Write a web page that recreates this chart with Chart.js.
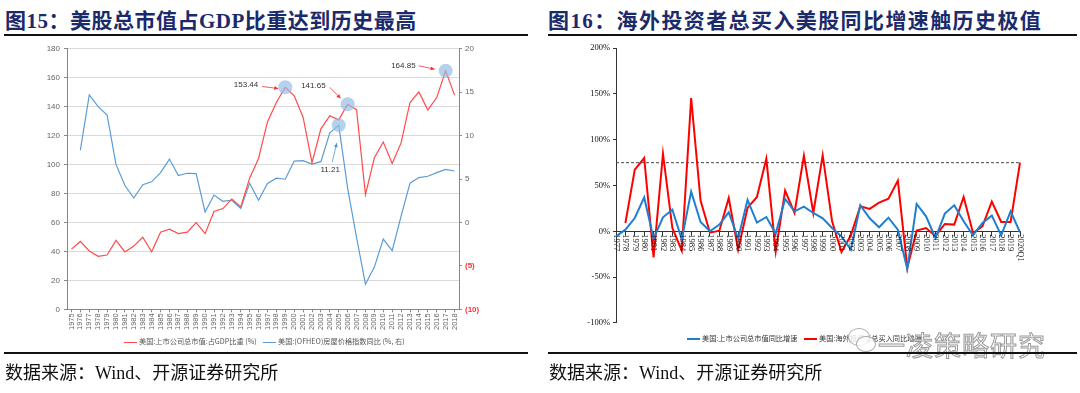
<!DOCTYPE html>
<html>
<head>
<meta charset="utf-8">
<script src="https://cdn.jsdelivr.net/npm/chart.js@4/dist/chart.umd.min.js"></script>
<style>
  html,body{margin:0;padding:0;background:#fff;width:1080px;height:393px;overflow:hidden;position:relative;}
  .title{position:absolute;top:4px;font-family:"Liberation Serif","Noto Sans CJK SC",serif;font-weight:bold;font-size:21px;color:#1B2A6B;white-space:nowrap;letter-spacing:0.5px;}
  .rule{position:absolute;height:2px;background:#111;}
  .src{position:absolute;top:358px;font-family:"Liberation Serif","Noto Sans CJK SC",serif;font-size:18px;color:#111;white-space:nowrap;}
  .leg{position:absolute;font-family:"Noto Sans CJK SC",sans-serif;font-size:7.2px;color:#555;white-space:nowrap;line-height:10px;}
  .leg i{display:inline-block;width:13px;height:0;border-top:1.5px solid;vertical-align:middle;margin-right:2px;}
  canvas{position:absolute;}
  .wm{position:absolute;left:878px;top:325px;font-family:"Noto Sans CJK SC",sans-serif;font-size:27px;color:rgba(255,255,255,0.85);-webkit-text-stroke:1px #9a9a9a;white-space:nowrap;letter-spacing:1px;}
  .wmi{position:absolute;border:1.5px solid #aaa;border-radius:50%;background:rgba(255,255,255,0.8);}
</style>
</head>
<body>
<div class="title" style="left:5px;">图15：美股总市值占GDP比重达到历史最高</div>
<div class="title" style="left:548px;letter-spacing:1.4px;">图16：海外投资者总买入美股同比增速触历史极值</div>
<div class="rule" style="left:4px;width:524px;top:34px;"></div>
<div class="rule" style="left:548px;width:529px;top:34px;"></div>

<div style="position:absolute;left:0;top:40px;width:535px;height:300px;"><canvas id="c1" width="535" height="300" style="left:0;top:0;"></canvas></div>
<div style="position:absolute;left:540px;top:40px;width:540px;height:291px;"><canvas id="c2" width="540" height="291" style="left:0;top:0;"></canvas></div>

<div class="leg" style="left:124px;top:336px;"><i style="border-color:#FF4B4B"></i>美国:上市公司总市值:占GDP比重 (%)</div>
<div class="leg" style="left:263px;top:336px;"><i style="border-color:#5B9BD5"></i>美国:(OFHEO)房屋价格指数同比 (%, 右)</div>

<div class="leg" style="left:687px;top:334px;color:#333;font-family:'Liberation Serif','Noto Sans CJK SC',serif;"><i style="border-color:#1F7FCF;border-top-width:2px"></i>美国:上市公司总市值同比增速</div>
<div class="leg" style="left:804px;top:334px;color:#333;font-family:'Liberation Serif','Noto Sans CJK SC',serif;"><i style="border-color:#FF0000;border-top-width:2px"></i>美国:海外投资者总买入同比增速</div>

<div class="wmi" style="left:848px;top:328px;width:20px;height:16px;"></div>
<div class="wmi" style="left:856px;top:336px;width:18px;height:14px;"></div>
<div class="wm">一凌策略研究</div>

<div class="rule" style="left:4px;width:524px;top:352px;"></div>
<div class="rule" style="left:548px;width:529px;top:352px;"></div>
<div class="src" style="left:5px;">数据来源：Wind、开源证券研究所</div>
<div class="src" style="left:549px;">数据来源：Wind、开源证券研究所</div>

<script>
// ---------- Chart 1 data ----------
const years1 = ['1975','1976','1977','1978','1979','1980','1981','1982','1983','1984','1985','1986','1987','1988','1989','1990','1991','1992','1993','1994','1995','1996','1997','1998','1999','2000','2001','2002','2003','2004','2005','2006','2007','2008','2009','2010','2011','2012','2013','2014','2015','2016','2017','2018'];
const mcapToGdp = [41.6,46.9,40.3,36.6,37.5,47.6,39.6,43.7,49.8,39.8,53.3,55.3,52.3,53.3,59.9,52.3,67.6,69.6,76.2,70.8,90.6,104.2,129.5,142.9,153.44,147.5,132.7,101.3,124.7,133.8,130.9,141.65,137.9,79.2,104.7,115.6,100.8,115.0,142.9,150.2,137.7,146.3,164.85,148.0];
const ofheoYoY = [null,8.32,14.69,13.33,12.38,6.69,4.26,2.82,4.34,4.68,5.74,7.30,5.40,5.67,5.63,1.19,3.16,2.44,2.56,1.61,4.53,2.56,4.49,5.10,4.98,7.07,7.11,6.73,7.00,10.33,11.21,3.96,-1.73,-7.11,-5.14,-1.92,-3.25,0.74,4.53,5.17,5.32,5.74,6.12,5.93];
const leftTicks = [0,20,40,60,80,100,120,140,160,180];
const rightTicks = [-10,-5,0,5,10,15,20];
const callouts = [
  {ds:0, year:'1999', text:'153.44'},
  {ds:0, year:'2006', text:'141.65'},
  {ds:1, year:'2005', text:'11.21'},
  {ds:0, year:'2017', text:'164.85'}
];

// ---------- Chart 2 data ----------
const years2 = ['1977','1978','1979','1980','1981','1982','1983','1984','1985','1986','1987','1988','1989','1990','1991','1992','1993','1994','1995','1996','1997','1998','1999','2000','2001','2002','2003','2004','2005','2006','2007','2008','2009','2010','2011','2012','2013','2014','2015','2016','2017','2018','2019','2020Q1'];
const mcapYoY = [-5.5,1.8,14.5,37,-8,15.3,23.6,-9,43.3,10.2,0,7.3,20.7,-8,34.2,9.5,15.6,-2.5,35.3,21.8,26.9,20,14.2,3.6,-5.5,-20,28.4,14.2,4.4,14.9,1.8,-41,29.8,16.4,-7.3,19.3,28.4,10.9,-4.4,9.1,17.1,-4.4,21.8,-1];
const foreignBuyYoY = [null,9.1,67.3,80,-28.4,84.7,3.6,-21,145.5,33.5,-1.5,0.7,36.4,-20,25.5,37.5,79.3,-21.8,44.4,20,82.5,20,82.9,10.9,-22.5,-4.4,27.3,24.4,31.3,35.6,55.3,-40,0.7,3.6,-5.1,8,7.3,37.5,-1.8,5.5,32.4,10.2,10.2,74.9];
const thresholdValue = 74.9;
const pctTicks = [-100,-50,0,50,100,150,200];

// ---------- Chart 1 ----------
const calloutLayout = {
  '1999': {lx:-27, ly:-2, a:[-23,-0.7,-7,1.3], align:'right'},
  '2006': {lx:-22, ly:-19, a:[-18,-17,-7,-6], align:'right'},
  '2005': {lx:-8.5, ly:45, a:[-6.5,37,-2,18], align:'center'},
  '2017': {lx:-30, ly:-5, a:[-27,-5,-11,-1.5], align:'right'}
};
function arrow(ctx,x1,y1,x2,y2,color){
  ctx.save();
  ctx.strokeStyle=color; ctx.fillStyle=color; ctx.lineWidth=0.8;
  ctx.beginPath(); ctx.moveTo(x1,y1); ctx.lineTo(x2,y2); ctx.stroke();
  const ang=Math.atan2(y2-y1,x2-x1), L=4, W=2;
  ctx.beginPath();
  ctx.moveTo(x2,y2);
  ctx.lineTo(x2-L*Math.cos(ang)+W*Math.sin(ang), y2-L*Math.sin(ang)-W*Math.cos(ang));
  ctx.lineTo(x2-L*Math.cos(ang)-W*Math.sin(ang), y2-L*Math.sin(ang)+W*Math.cos(ang));
  ctx.closePath(); ctx.fill();
  ctx.restore();
}
const calloutPlugin = {
  id:'callouts',
  afterDatasetsDraw(chart){
    const ctx=chart.ctx;
    callouts.forEach(c=>{
      const meta=chart.getDatasetMeta(c.ds);
      const i=years1.indexOf(c.year);
      const el=meta.data[i];
      const x=el.x, y=el.y;
      ctx.save();
      ctx.fillStyle='rgba(150,190,228,0.7)';
      ctx.beginPath(); ctx.arc(x,y,7,0,Math.PI*2); ctx.fill();
      const L=calloutLayout[c.year];
      const col=c.ds===0?'#FF3030':'#4F94D0';
      ctx.font='8px "Liberation Sans Narrow","Liberation Sans",sans-serif';
      ctx.fillStyle='#333'; ctx.textAlign=L.align; ctx.textBaseline='middle';
      ctx.fillText(c.text, x+L.lx, y+L.ly);
      ctx.restore();
      arrow(ctx,x+L.a[0],y+L.a[1],x+L.a[2],y+L.a[3],col);
    });
  }
};

new Chart(document.getElementById('c1'),{
  type:'line',
  data:{labels:years1,datasets:[
    {label:'美国:上市公司总市值:占GDP比重 (%)',data:mcapToGdp,yAxisID:'yL',borderColor:'#FF4B4B',borderWidth:1.2,pointRadius:0,tension:0},
    {label:'美国:(OFHEO)房屋价格指数同比 (%, 右)',data:ofheoYoY,yAxisID:'yR',borderColor:'#5B9BD5',borderWidth:1.2,pointRadius:0,tension:0}
  ]},
  options:{
    responsive:false,animation:false,
    layout:{padding:{top:6,left:0,right:46,bottom:0}},
    plugins:{legend:{display:false},tooltip:{enabled:false}},
    scales:{
      x:{offset:true,
        grid:{display:true,drawOnChartArea:false,tickLength:3,tickColor:'#888'},
        border:{color:'#888'},
        ticks:{autoSkip:false,maxRotation:90,minRotation:90,color:'#666',padding:1,font:{size:7.5,family:'"Liberation Sans Narrow","Liberation Sans",sans-serif'}},
        afterFit(s){s.height=30.7;}
      },
      yL:{position:'left',min:0,max:180,
        afterBuildTicks(s){s.ticks=leftTicks.map(v=>({value:v}));},
        grid:{color:c=>c.tick&&c.tick.value===0?'rgba(0,0,0,0)':'#D9D9D9',borderDash:[4,3],tickLength:3,tickColor:'#888'},
        border:{color:'#888'},
        ticks:{color:'#666',padding:4,font:{size:8,family:'"Liberation Sans Narrow","Liberation Sans",sans-serif'}},
        afterFit(s){s.width=67;}
      },
      yR:{position:'right',min:-10,max:20,
        afterBuildTicks(s){s.ticks=rightTicks.map(v=>({value:v}));},
        grid:{drawOnChartArea:false,tickLength:3,tickColor:'#888'},
        border:{color:'#888'},
        ticks:{padding:3,font:c=>({size:8,weight:c.tick&&c.tick.value<0?'bold':'normal',family:'"Liberation Sans Narrow","Liberation Sans",sans-serif'}),
          color:c=>c.tick&&c.tick.value<0?'#FF3030':'#666',
          callback:v=>v<0?'('+(-v)+')':String(v)},
        afterFit(s){s.width=30;}
      }
    }
  },
  plugins:[calloutPlugin]
});

// ---------- Chart 2 ----------
const chart2Extras = {
  id:'extras2',
  beforeDatasetsDraw(chart){
    const xs=chart.scales.x, ys=chart.scales.y, ctx=chart.ctx;
    const y=ys.getPixelForValue(thresholdValue);
    ctx.save();
    ctx.strokeStyle='#444'; ctx.lineWidth=1; ctx.setLineDash([3,2]);
    ctx.beginPath(); ctx.moveTo(xs.left,y); ctx.lineTo(xs.getPixelForValue(years2.length-1),y); ctx.stroke();
    ctx.restore();
  },
  afterDraw(chart){
    const xs=chart.scales.x, ys=chart.scales.y, ctx=chart.ctx;
    const y0=ys.getPixelForValue(0)+3;
    ctx.save();
    ctx.font='8.5px "Liberation Serif",serif'; ctx.fillStyle='#111';
    ctx.textAlign='left'; ctx.textBaseline='middle';
    years2.forEach((lab,i)=>{
      const x=xs.getPixelForTick(i);
      ctx.save(); ctx.translate(x,y0); ctx.rotate(Math.PI/2); ctx.fillText(lab,0,0); ctx.restore();
    });
    ctx.restore();
  }
};
new Chart(document.getElementById('c2'),{
  type:'line',
  data:{labels:years2,datasets:[
    {label:'美国:上市公司总市值同比增速',data:mcapYoY,borderColor:'#1F7FCF',borderWidth:2,pointRadius:0,tension:0},
    {label:'美国:海外投资者总买入同比增速',data:foreignBuyYoY,borderColor:'#FF0000',borderWidth:2,pointRadius:0,tension:0}
  ]},
  options:{
    responsive:false,animation:false,
    layout:{padding:{top:7,left:0,right:60,bottom:0}},
    plugins:{legend:{display:false},tooltip:{enabled:false}},
    scales:{
      x:{position:{y:0},offset:false,
        grid:{drawOnChartArea:false,tickLength:4,tickColor:'#333'},
        border:{color:'#333'},
        ticks:{display:false,autoSkip:false},
        afterFit(s){s.height=0;}
      },
      y:{min:-100,max:200,
        afterBuildTicks(s){s.ticks=pctTicks.map(v=>({value:v}));},
        grid:{drawOnChartArea:false,tickLength:3,tickColor:'#333'},
        border:{color:'#333'},
        ticks:{color:'#111',padding:3,font:{size:8.5,family:'"Liberation Serif",serif'},callback:v=>v+'%'},
        afterFit(s){s.width=76;}
      }
    }
  },
  plugins:[chart2Extras]
});
</script>
</body>
</html>
